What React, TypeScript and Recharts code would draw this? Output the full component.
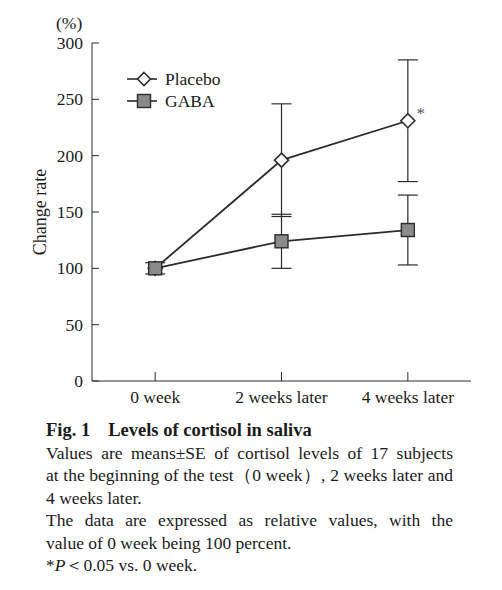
import React from 'react';
import { LineChart, Line, XAxis, YAxis, ErrorBar, Legend, LabelList } from 'recharts';

const weeks = ['0 week', '2 weeks later', '4 weeks later'];
const placebo = [100, 196, 231];
const placeboSE = [0, 50, 54];
const gaba = [100, 124, 134];
const gabaSE = [5, 24, 31];
const significance = ['', '', '*'];
const yTicks = [0, 50, 100, 150, 200, 250, 300];

const data = weeks.map((week, i) => ({
  week,
  placebo: placebo[i],
  placeboSE: placeboSE[i],
  gaba: gaba[i],
  gabaSE: gabaSE[i],
  sig: significance[i],
}));

const FONT = '"Liberation Serif", "Times New Roman", serif';
const INK = '#2b2b2b';
const GREY = '#8a8a8c';

const Diamond = ({ cx, cy, r = 7 }: { cx: number; cy: number; r?: number }) => (
  <path
    d={`M${cx},${cy - r} L${cx + r},${cy} L${cx},${cy + r} L${cx - r},${cy} Z`}
    fill="#fff"
    stroke={INK}
    strokeWidth={1.6}
  />
);

const Square = ({ cx, cy, s = 13 }: { cx: number; cy: number; s?: number }) => (
  <rect x={cx - s / 2} y={cy - s / 2} width={s} height={s} fill={GREY} stroke={INK} strokeWidth={1.4} />
);

const YTick = ({ x, y, payload }: any) => (
  <g>
    <line x1={x} x2={x + 7} y1={y} y2={y} stroke={INK} strokeWidth={1} />
    <text x={x - 9} y={y} dy="0.35em" textAnchor="end" fontFamily={FONT} fontSize={17.5} fill="#1a1a1a">
      {payload.value}
    </text>
  </g>
);

const XTick = ({ x, y, payload }: any) => (
  <g>
    <line x1={x} x2={x} y1={y} y2={y - 9} stroke={INK} strokeWidth={1} />
    <text x={x} y={y + 22} textAnchor="middle" fontFamily={FONT} fontSize={17.5} fill="#1a1a1a">
      {payload.value}
    </text>
  </g>
);

const YTitle = ({ viewBox }: any) => {
  const cx = 40;
  const cy = viewBox.y + viewBox.height / 2;
  return (
    <text x={cx} y={cy} transform={`rotate(-90 ${cx} ${cy})`} dy="0.35em" textAnchor="middle"
      fontFamily={FONT} fontSize={18} fill="#1a1a1a">
      Change rate
    </text>
  );
};

const Star = ({ x, y, value }: any) =>
  value ? (
    <text x={x + 13} y={y - 2} textAnchor="middle" fontFamily={FONT} fontSize={17} fill="#555">
      {value}
    </text>
  ) : null;

const LegendBox = () => (
  <div style={{ fontFamily: FONT, fontSize: 17.5, color: '#1a1a1a' }}>
    {[
      { name: 'Placebo', mark: <Diamond cx={17} cy={11} r={6.5} /> },
      { name: 'GABA', mark: <Square cx={17} cy={11} s={13} /> },
    ].map((item) => (
      <div key={item.name} style={{ display: 'flex', alignItems: 'center', height: 22 }}>
        <svg width={32} height={22} style={{ marginRight: 6 }}>
          <line x1={0} x2={30} y1={11} y2={11} stroke={INK} strokeWidth={1.6} />
          {item.mark}
        </svg>
        <span>{item.name}</span>
      </div>
    ))}
  </div>
);

const lineStyle = { fontFamily: FONT, fontSize: 17.5, lineHeight: '22.5px', height: 22.5, whiteSpace: 'nowrap' as const };
const justified = { ...lineStyle, textAlign: 'justify' as const, textAlignLast: 'justify' as const };

export default function App() {
  return (
    <div style={{ position: 'absolute', left: 0, top: 0, width: 502, height: 590, background: '#fff' }}>
      <div style={{ position: 'absolute', left: 56, top: 12, fontFamily: FONT, fontSize: 17.5, lineHeight: '22px', color: '#1a1a1a' }}>
        (%)
      </div>
      <LineChart width={502} height={411} data={data} margin={{ top: 43, right: 31, left: 0, bottom: 0 }}>
        <XAxis
          dataKey="week"
          scale="band"
          height={30}
          interval={0}
          tickSize={0}
          tickMargin={0}
          tickLine={false}
          axisLine={{ stroke: INK, strokeWidth: 1 }}
          tick={<XTick />}
        />
        <YAxis
          type="number"
          domain={[0, 300]}
          ticks={yTicks}
          interval={0}
          width={92}
          tickSize={0}
          tickMargin={0}
          tickLine={false}
          axisLine={{ stroke: INK, strokeWidth: 1 }}
          tick={<YTick />}
          label={{ content: <YTitle /> }}
        />
        <Legend
          layout="vertical"
          align="center"
          verticalAlign="middle"
          content={<LegendBox />}
          wrapperStyle={{ left: 127, top: 68, width: 'auto', height: 'auto' }}
        />
        <Line
          dataKey="placebo"
          name="Placebo"
          stroke={INK}
          strokeWidth={1.8}
          isAnimationActive={false}
          dot={(p: any) => <Diamond key={`pd-${p.index}`} cx={p.cx} cy={p.cy} />}
          activeDot={false}
        >
          <ErrorBar dataKey="placeboSE" width={10} stroke={INK} strokeWidth={1.2} />
          <LabelList dataKey="sig" content={<Star />} />
        </Line>
        <Line
          dataKey="gaba"
          name="GABA"
          stroke={INK}
          strokeWidth={1.8}
          isAnimationActive={false}
          dot={(p: any) => <Square key={`gd-${p.index}`} cx={p.cx} cy={p.cy} />}
          activeDot={false}
        >
          <ErrorBar dataKey="gabaSE" width={10} stroke={INK} strokeWidth={1.2} />
        </Line>
      </LineChart>
      <div style={{ position: 'absolute', left: 46, top: 419, width: 407, color: '#1a1a1a' }}>
        <div style={{ ...lineStyle, fontWeight: 'bold', fontSize: 18.5 }}>
          <span>Fig. 1</span>
          <span style={{ marginLeft: 18 }}>Levels of cortisol in saliva</span>
        </div>
        <div style={justified}>Values are means±SE of cortisol levels of 17 subjects</div>
        <div style={justified}>at the beginning of the test（0 week）, 2 weeks later and</div>
        <div style={lineStyle}>4 weeks later.</div>
        <div style={justified}>The data are expressed as relative values, with the</div>
        <div style={lineStyle}>value of 0 week being 100 percent.</div>
        <div style={lineStyle}>
          *<i>P</i>＜0.05 vs. 0 week.
        </div>
      </div>
    </div>
  );
}
